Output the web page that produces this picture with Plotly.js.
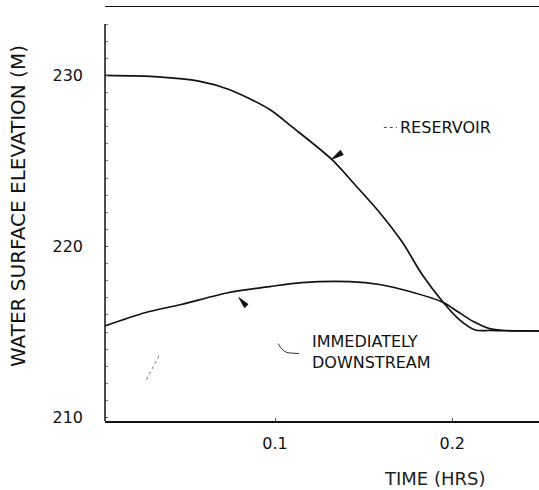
<!DOCTYPE html>
<html>
<head>
<meta charset="utf-8">
<script src="https://cdn.plot.ly/plotly-3.0.1.min.js"></script>
<style>html,body{margin:0;padding:0;background:#fff;}#chart{width:539px;height:490px;}</style>
</head>
<body>
<div id="chart"></div>
<script>
// Time (hrs)
var resTime = [0.003, 0.034, 0.057, 0.074, 0.097, 0.110, 0.132, 0.146, 0.159, 0.172, 0.183, 0.195, 0.204, 0.213, 0.221, 0.249];
// Reservoir water surface elevation (m)
var resElev = [230.0, 229.92, 229.67, 229.18, 228.01, 226.96, 225.09, 223.51, 221.99, 220.23, 218.36, 216.73, 215.73, 215.12, 215.09, 215.06];

var dsTime = [0.003, 0.027, 0.047, 0.074, 0.097, 0.115, 0.142, 0.159, 0.176, 0.195, 0.203, 0.212, 0.221, 0.230, 0.249];
// Immediately downstream water surface elevation (m)
var dsElev = [215.32, 216.14, 216.61, 217.31, 217.66, 217.89, 217.95, 217.78, 217.37, 216.73, 216.20, 215.61, 215.20, 215.09, 215.06];

var xTicks = [0.1, 0.2];
var xTickText = ['0.1', '0.2'];
var yTicks = [210, 220, 230];
var yTickText = ['210', '220', '230'];

var lineStyle = {color: '#111', width: 1.7, shape: 'spline', smoothing: 0.8};

var traces = [
  {x: resTime, y: resElev, mode: 'lines', line: lineStyle, name: 'RESERVOIR', hoverinfo: 'skip'},
  {x: dsTime, y: dsElev, mode: 'lines', line: lineStyle, name: 'IMMEDIATELY DOWNSTREAM', hoverinfo: 'skip'}
];

var font = 'DejaVu Sans';

var layout = {
  width: 539, height: 490,
  margin: {l: 105, r: 0, t: 7, b: 69},
  paper_bgcolor: '#fff', plot_bgcolor: '#fff',
  font: {family: font, size: 16, color: '#111'},
  showlegend: false,
  xaxis: {
    range: [0.004, 0.249],
    tickmode: 'array', tickvals: xTicks, ticktext: xTickText,
    showgrid: false, zeroline: false,
    showline: true, mirror: true, linecolor: '#111', linewidth: 1.5,
    ticks: 'inside', ticklen: 3, tickcolor: '#555',
    ticklabelstandoff: 7,
    tickfont: {family: font, size: 16, color: '#111'}
  },
  yaxis: {
    range: [209.8, 234.0],
    tickmode: 'array', tickvals: yTicks, ticktext: yTickText,
    showgrid: false, zeroline: false,
    showline: false,
    ticks: 'inside', ticklen: 3, tickcolor: '#555',
    minor: {dtick: 1, ticks: 'inside', ticklen: 3, tickcolor: '#777'},
    ticklabelstandoff: 21,
    tickfont: {family: font, size: 16, color: '#111'}
  },
  shapes: [
    {type: 'line', xref: 'paper', yref: 'paper', x0: 0, x1: 0, y0: 0, y1: 0.959, line: {color: '#111', width: 1.5}},
    {type: 'line', xref: 'x', yref: 'y', x0: 0.1614, x1: 0.1688, y0: 226.96, y1: 226.96, line: {color: '#444', width: 1, dash: 'dot'}},
    {type: 'path', xref: 'x', yref: 'y', path: 'M 0.1017 214.33 Q 0.1045 213.8 0.1080 213.78 L 0.1136 213.74', line: {color: '#333', width: 1}},
    {type: 'line', xref: 'x', yref: 'y', x0: 0.0274, x1: 0.0348, y0: 212.22, y1: 213.68, line: {color: '#777', width: 1, dash: 'dot'}},
    {type: 'path', xref: 'x', yref: 'y', path: 'M 0.1317 225.09 L 0.1385 225.36 L 0.1369 225.63 Z', fillcolor: '#111', line: {color: '#111', width: 0.8}},
    {type: 'path', xref: 'x', yref: 'y', path: 'M 0.0795 217.02 L 0.0848 216.62 L 0.0828 216.42 Z', fillcolor: '#111', line: {color: '#111', width: 0.8}}
  ],
  annotations: [
    {text: 'WATER SURFACE ELEVATION (M)', xref: 'paper', yref: 'paper', x: -0.2005, y: 0.519, textangle: -90, showarrow: false, xanchor: 'center', yanchor: 'middle', font: {family: font, size: 20, color: '#111'}},
    {text: 'TIME (HRS)', xref: 'paper', yref: 'paper', x: (434 - 105) / 434, y: -(478 - 421) / 414, showarrow: false, xanchor: 'center', yanchor: 'middle', font: {family: font, size: 18, color: '#222'}},
    {text: 'RESERVOIR', xref: 'x', yref: 'y', x: 0.1695, y: 226.96, showarrow: false, xanchor: 'left', yanchor: 'middle', font: {family: font, size: 16, color: '#111'}},
    {text: 'IMMEDIATELY<br>DOWNSTREAM', xref: 'x', yref: 'y', x: 0.1195, y: 213.86, showarrow: false, xanchor: 'left', yanchor: 'middle', align: 'left', font: {family: font, size: 16, color: '#111'}}
  ]
};

Plotly.newPlot('chart', traces, layout, {staticPlot: true, displayModeBar: false});
</script>
</body>
</html>
